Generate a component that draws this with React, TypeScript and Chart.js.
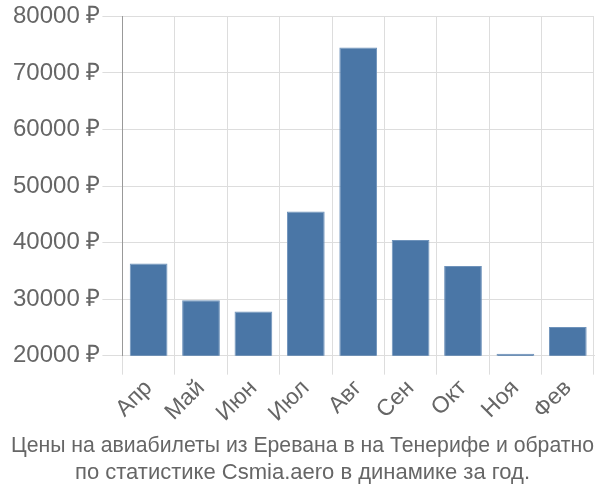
import React, { useEffect, useRef } from "react";
import { Chart, registerables } from "chart.js";

Chart.register(...registerables);

const categories = ["Апр", "Май", "Июн", "Июл", "Авг", "Сен", "Окт", "Ноя", "Фев"];
const prices = [36300, 29800, 27800, 45500, 74500, 40450, 35850, 20350, 25050];
const titleLines = [
  "Цены на авиабилеты из Еревана в на Тенерифе и обратно",
  "по статистике Csmia.aero в динамике за год.",
];

export default function App() {
  const ref = useRef<HTMLCanvasElement | null>(null);
  useEffect(() => {
    document.body.style.margin = "0";
    const chart = new Chart(ref.current!, {
      type: "bar",
      data: {
        labels: categories,
        datasets: [
          {
            data: prices,
            backgroundColor: "#4a76a6",
            borderColor: "#6f93bb",
            borderWidth: 1,
            categoryPercentage: 0.8,
            barPercentage: 0.9,
          },
        ],
      },
      options: {
        animation: false,
        responsive: false,
        layout: { padding: { left: 11, right: 6, top: 0, bottom: 14 } },
        plugins: {
          legend: { display: false },
          tooltip: { enabled: false },
          title: {
            display: true,
            position: "bottom",
            text: titleLines,
            color: "#666",
            font: { family: "'Liberation Sans', Arial, sans-serif", size: 22, weight: "normal", lineHeight: 1.2 },
            padding: { top: 6, bottom: 0 },
          },
        },
        scales: {
          x: {
            grid: { color: "#ddd", tickLength: 19, drawTicks: true },
            border: { color: "#ddd" },
            ticks: {
              color: "#666",
              font: { family: "'Liberation Sans', Arial, sans-serif", size: 23 },
              minRotation: 45,
              maxRotation: 45,
              padding: 0,
            },
          },
          y: {
            min: 20000,
            max: 80000,
            grid: { color: "#ddd", tickLength: 20 },
            border: { color: "#999" },
            ticks: {
              stepSize: 10000,
              color: "#666",
              font: { family: "'Liberation Sans', Arial, sans-serif", size: 24 },
              padding: 2,
              callback: (v: any) => v + " ₽",
            },
          },
        },
      },
    });
    return () => chart.destroy();
  }, []);
  return <canvas ref={ref} width={600} height={500} />;
}
